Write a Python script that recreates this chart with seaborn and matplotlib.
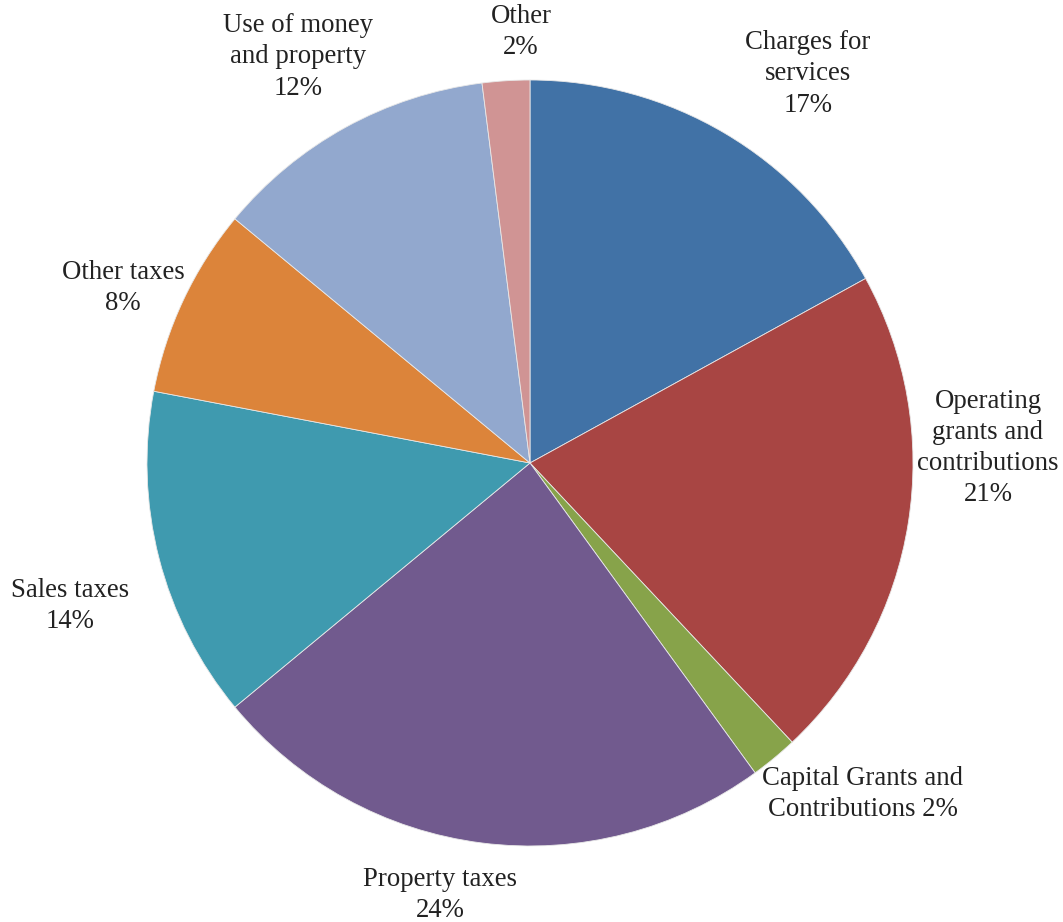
import matplotlib
matplotlib.use("Agg")
import matplotlib.pyplot as plt
import seaborn as sns

# Revenue sources, clockwise from 12 o'clock
categories = [
    "Charges for\nservices",
    "Operating\ngrants and\ncontributions",
    "Capital Grants and\nContributions",
    "Property taxes",
    "Sales taxes",
    "Other taxes",
    "Use of money\nand property",
    "Other",
]
shares = [17, 21, 2, 24, 14, 8, 12, 2]
hex_colors = ["#4172A6", "#A84543", "#87A34A", "#715A8E", "#3F9AAF",
              "#DC843A", "#92A8CE", "#D09494"]

# Label anchor points (pixel space, origin top-left) and whether the
# percentage sits on the same line as the name
label_pos = [(808, 74), (988, 448), (863, 794), (440, 895),
             (70, 606), (123, 288), (298, 57), (521, 32)]
inline_pct = [False, False, True, False, False, False, False, False]

sns.set_theme(style="white")
plt.rcParams["font.family"] = ["Liberation Serif", "DejaVu Serif"]
palette = sns.color_palette(hex_colors)

W, H = 1063, 922
fig = plt.figure(figsize=(W / 100, H / 100), dpi=100)
ax = fig.add_axes([0, 0, 1, 1])

cx, cy, r = 530, H - 463, 383
ax.pie(shares, colors=palette, startangle=90, counterclock=False,
       center=(cx, cy), radius=r, frame=True,
       wedgeprops=dict(edgecolor="#e8e8e8", linewidth=0.6))
ax.set_xlim(0, W)
ax.set_ylim(0, H)
ax.set_aspect("equal")
ax.axis("off")

for name, val, (px, py), inline in zip(categories, shares, label_pos, inline_pct):
    sep = " " if inline else "\n"
    ax.text(px, H - py, f"{name}{sep}{val}%", ha="center", va="center",
            fontsize=19.3, color="#222222", linespacing=1.33)

fig.savefig("out.png", dpi=100, facecolor="white")
